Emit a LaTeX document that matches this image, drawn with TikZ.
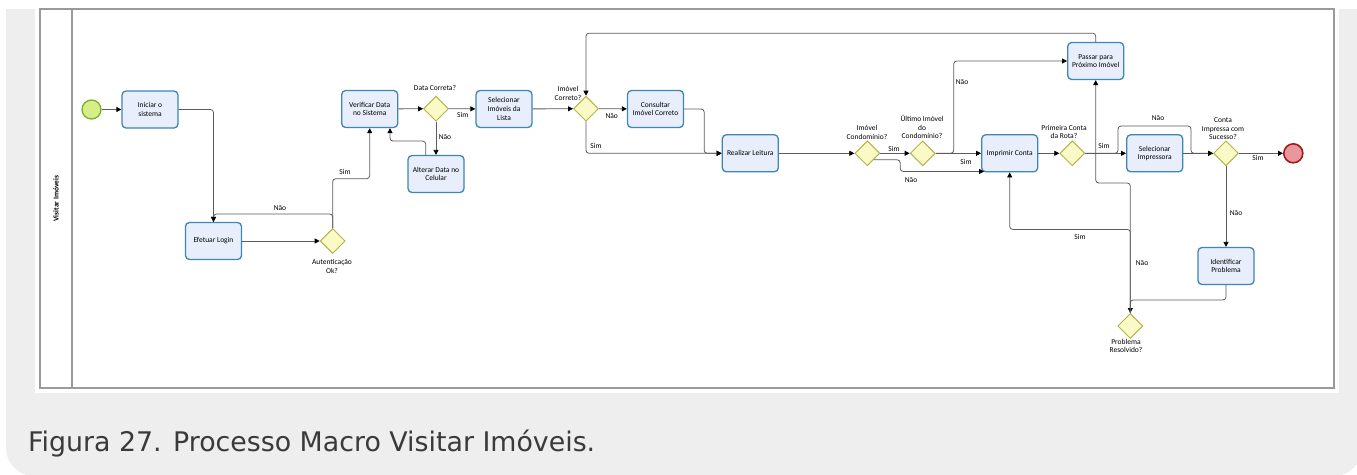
\documentclass[tikz,border=0pt]{standalone}
\usepackage{fontspec}
\usepackage{graphicx}
\setmainfont{Carlito}
\newfontfamily\capfont{DejaVu Sans}
\usetikzlibrary{arrows.meta,shapes.geometric}
\definecolor{taskF}{HTML}{E8EEFB}
\definecolor{taskC}{HTML}{3F86B4}
\definecolor{gwF}{HTML}{FAFAC6}
\definecolor{gwC}{HTML}{B4B44C}
\definecolor{startF}{HTML}{D5EE86}
\definecolor{startC}{HTML}{7DAE2C}
\definecolor{endF}{HTML}{E9979C}
\definecolor{endC}{HTML}{A11A1A}
\definecolor{flowC}{HTML}{5C5C5C}
\definecolor{poolC}{HTML}{9A9A9A}
\definecolor{pageC}{HTML}{EEEEEE}
\definecolor{capC}{HTML}{3A3A3A}
\newcommand\diagfont{\fontsize{7.5}{8.6}\selectfont}
\tikzset{
  task/.style    = {draw=taskC, fill=taskF, line width=1.3pt, rounded corners=4pt,
                    minimum width=56pt, minimum height=37pt, align=center,
                    inner sep=1pt, font=\diagfont},
  gw/.style      = {diamond, draw=gwC, fill=gwF, line width=1pt,
                    minimum size=25pt, inner sep=0pt},
  startev/.style = {circle, draw=startC, fill=startF, line width=1.3pt,
                    minimum size=19pt, inner sep=0pt},
  endev/.style   = {circle, draw=endC, fill=endF, line width=1.6pt,
                    minimum size=19pt, inner sep=0pt},
  flow/.style    = {draw=flowC, line width=0.8pt, rounded corners=3pt,
                    -{Triangle[length=5pt,width=5pt,black]}},
  lbl/.style     = {font=\diagfont, inner sep=0pt},
  gwlbl/.style   = {font=\diagfont, inner sep=0pt, align=center},
}
\begin{document}
\begin{tikzpicture}[x=1pt,y=-1pt]
 \useasboundingbox (0,0) rectangle (1357,474);
 % page and pool
 \fill[pageC, rounded corners=28pt] (6,-30) rectangle (1362,476);
 \fill[white] (0,-1) rectangle (1357,9);
 \fill[white] (35,0) rectangle (1339,393);
 \draw[poolC, line width=1.2pt] (40,9) rectangle (1334,388);
 \draw[poolC, line width=1.2pt] (72,9) -- (72,388);
 \node[rotate=90, font=\bfseries\diagfont] (lane) at (56,198.5) {Visitar Imóveis};
 % caption
 \node[anchor=base west, inner sep=0pt, text=capC] (caption) at (28,451.7)
   {\resizebox{567pt}{\height}{\capfont\fontsize{27}{30}\selectfont Figura 27. Processo Macro Visitar Imóveis.}};
 % events, tasks, gateways
 \node[startev] (start) at (91.5,109.5) {};
 \node[task] (iniciar) at (150,109.5) {Iniciar o\\sistema};
 \node[task] (login) at (213.5,241) {Efetuar Login};
 \node[gw] (auth) at (332.7,241) {};
 \node[task] (verificar) at (369.7,109) {Verificar Data\\no Sistema};
 \node[gw] (data) at (436,108.7) {};
 \node[task] (alterar) at (436,174) {Alterar Data no\\Celular};
 \node[task] (lista) at (504,109) {Selecionar\\Imóveis da\\Lista};
 \node[gw] (imovel) at (586,108.7) {};
 \node[task] (consultar) at (655.5,109) {Consultar\\Imóvel Correto};
 \node[task] (leitura) at (750.3,153.3) {Realizar Leitura};
 \node[gw] (cond) at (867.3,153.3) {};
 \node[gw] (ultimo) at (922.7,153.3) {};
 \node[task] (passar) at (1095.7,61) {Passar para\\Próximo Imóvel};
 \node[task] (imprimir) at (1009.7,153.3) {Imprimir Conta};
 \node[gw] (primeira) at (1072.3,153.3) {};
 \node[task] (impressora) at (1154.7,153.3) {Selecionar\\Impressora};
 \node[gw] (conta) at (1226,153.3) {};
 \node[endev] (fim) at (1293.3,153.3) {};
 \node[task] (identificar) at (1226,266) {Identificar\\Problema};
 \node[gw] (problema) at (1130.3,326) {};
 % gateway labels
 \node[gwlbl] (lAuth) at (332,266.5) {Autenticação\\Ok?};
 \node[gwlbl] (lData) at (435,88) {Data Correta?};
 \node[gwlbl] (lImovel) at (568,93.5) {Imóvel\\Correto?};
 \node[gwlbl] (lCond) at (867,132.5) {Imóvel\\Condomínio?};
 \node[gwlbl] (lUltimo) at (922,127) {Último Imóvel\\do\\Condomínio?};
 \node[gwlbl] (lPrimeira) at (1064,132) {Primeira Conta\\da Rota?};
 \node[gwlbl] (lConta) at (1223,128.7) {Conta\\Impressa com\\Sucesso?};
 \node[gwlbl] (lProblema) at (1126,346) {Problema\\Resolvido?};
 % flows
 \draw[flow] (start) -- (iniciar);
 \draw[flow] (iniciar) -| (login);
 \draw[flow] (login) -- (auth);
 \draw[flow] (auth.north) -- ++(0,-14) -| (login.north);
 \draw[flow] (auth.north) -- ++(0,-49.3) -| (verificar.south);
 \draw[flow] (verificar) -- (data);
 \draw[flow] (data) -- (lista);
 \draw[flow] (data) -- (alterar);
 \draw[flow] ([xshift=-10.3pt]alterar.north) -- ++(0,-13.8) -| ([xshift=20.3pt]verificar.south);
 \draw[flow] (lista) -- (imovel);
 \draw[flow] (imovel) -- (consultar);
 \draw[flow] (imovel.south) |- (leitura.west);
 \draw[flow] (consultar.east) -- ++(20,0) |- (leitura.west);
 \draw[flow] (passar.north) -- ++(0,-8.7) -| (imovel.north);
 \draw[flow] (leitura) -- (cond);
 \draw[flow] (cond) -- (ultimo);
 \draw[flow] (cond.south east) -- ++(26.4,0) |- ([xshift=3pt,yshift=1pt]imprimir.south west);
 \draw[flow] (ultimo) -- (imprimir);
 \draw[flow] (ultimo.east) -- ++(18,0) |- (passar.west);
 \draw[flow] (imprimir) -- (primeira);
 \draw[flow] (primeira) -- (impressora);
 \draw[flow] (primeira.east) -- ++(32.7,0) -- ++(0,-27.3) -- ++(73,0) |- (conta.west);
 \draw[flow] (impressora) -- (conta);
 \draw[flow] (conta) -- (fim);
 \draw[flow] (conta) -- (identificar);
 \draw[flow] (identificar.south) -- ++(0,14.8) -| (problema.north);
 \draw[flow] (problema.north) -- ++(0,-83.6) -| (imprimir.south);
 \draw[flow] (problema.north) -- ++(0,-130) -| (passar.south);
 % flow labels
 \node[lbl] (nAutNao) at (280,208) {Não};
 \node[lbl] (nAutSim) at (345,172) {Sim};
 \node[lbl] (nDataSim) at (462.7,115) {Sim};
 \node[lbl] (nDataNao) at (445,137) {Não};
 \node[lbl] (nImovNao) at (611.7,116) {Não};
 \node[lbl] (nImovSim) at (596,146) {Sim};
 \node[lbl] (nCondSim) at (894,149) {Sim};
 \node[lbl] (nCondNao) at (911,180) {Não};
 \node[lbl] (nUltNao) at (962,82) {Não};
 \node[lbl] (nUltSim) at (966,162) {Sim};
 \node[lbl] (nPrimSim) at (1104,146) {Sim};
 \node[lbl] (nPrimNao) at (1158,118) {Não};
 \node[lbl] (nContaSim) at (1258,158) {Sim};
 \node[lbl] (nContaNao) at (1236,213) {Não};
 \node[lbl] (nProbSim) at (1080,237) {Sim};
 \node[lbl] (nProbNao) at (1142,263) {Não};
\end{tikzpicture}
\end{document}
